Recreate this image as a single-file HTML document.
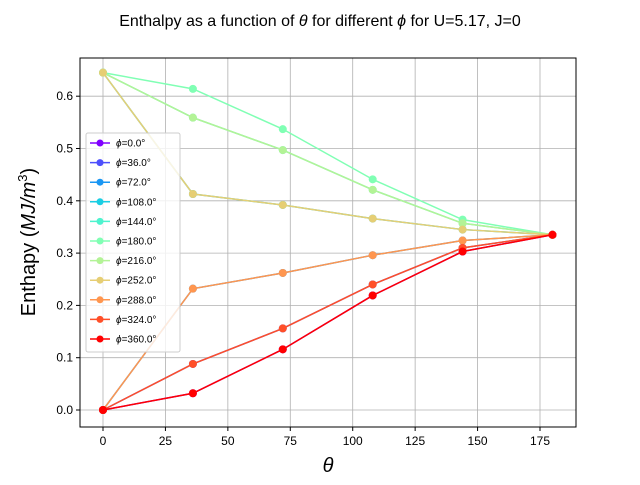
<!DOCTYPE html>
<html><head><meta charset="utf-8"><style>
body{margin:0;background:#fff;}
svg{font-family:"Liberation Sans","DejaVu Sans",sans-serif;}
</style></head><body>
<svg id="chart" width="640" height="480" viewBox="0 0 640 480">
<text x="320" y="26" text-anchor="middle" font-size="16">Enthalpy as a function of <tspan font-style="italic">θ</tspan> for different <tspan font-style="italic">ϕ</tspan> for U=5.17, J=0</text>
<g id="grid"></g>
<g id="series"></g>
<rect x="80" y="58" width="496" height="369" fill="none" stroke="#000" stroke-width="1"/>
<g id="axes"></g>
<text x="328" y="472" text-anchor="middle" font-size="20" font-style="italic">θ</text>
<text transform="translate(35,242) rotate(-90)" text-anchor="middle" font-size="20">Enthapy (<tspan font-style="italic">MJ/m</tspan><tspan font-size="13" dy="-8">3</tspan><tspan dy="8">)</tspan></text>
<g id="legend"></g>
</svg>
<script>
const thetas = [0, 36, 72, 108, 144, 180];
const phiLabels = ["0.0","36.0","72.0","108.0","144.0","180.0","216.0","252.0","288.0","324.0","360.0"];
const colors = ["#8000ff","#4d4ffc","#1996f3","#1acee3","#4df3ce","#80ffb4","#b3f396","#e6ce74","#ff964f","#ff4f28","#ff0000"];
const s0 = [0, 0.032, 0.116, 0.219, 0.303, 0.335];
const s36 = [0, 0.088, 0.156, 0.240, 0.310, 0.335];
const s72 = [0, 0.232, 0.262, 0.296, 0.324, 0.335];
const s108 = [0.645, 0.413, 0.392, 0.366, 0.345, 0.335];
const s144 = [0.645, 0.559, 0.497, 0.421, 0.357, 0.335];
const s180 = [0.645, 0.614, 0.537, 0.441, 0.364, 0.335];
const s216 = [0.645, 0.559, 0.497, 0.421, 0.357, 0.335];
const s252 = [0.645, 0.413, 0.392, 0.366, 0.345, 0.335];
const s288 = [0, 0.232, 0.262, 0.296, 0.324, 0.335];
const s324 = [0, 0.088, 0.156, 0.240, 0.310, 0.335];
const s360 = [0, 0.032, 0.116, 0.219, 0.303, 0.335];
const seriesList = [s0,s36,s72,s108,s144,s180,s216,s252,s288,s324,s360];
const xTicks = [0,25,50,75,100,125,150,175];
const yTicks = [0.0,0.1,0.2,0.3,0.4,0.5,0.6];

const NS="http://www.w3.org/2000/svg";
function xs(v){return 103 + v*(437/175);}
function ys(v){return 410 - v*523;}
function mk(tag,attrs,parent){const e=document.createElementNS(NS,tag);for(const k in attrs)e.setAttribute(k,attrs[k]);parent.appendChild(e);return e;}
const grid=document.getElementById('grid'), axes=document.getElementById('axes'), series=document.getElementById('series'), legend=document.getElementById('legend');
xTicks.forEach(t=>{
  const x=xs(t);
  const g=mk('line',{x1:x,x2:x,y1:58,y2:427,stroke:'#b0b0b0','stroke-width':0.8},grid);
  
  
  const tk=mk('line',{x1:x,x2:x,y1:427,y2:431,stroke:'#000'},axes);
  
  
  const tl=mk('text',{x:x,y:445,'text-anchor':'middle','font-size':12},axes);
  tl.textContent=t;
  
  
});
yTicks.forEach(t=>{
  const y=ys(t);
  const g=mk('line',{x1:80,x2:576,y1:y,y2:y,stroke:'#b0b0b0','stroke-width':0.8},grid);
  
  
  const tk=mk('line',{x1:76,x2:80,y1:y,y2:y,stroke:'#000'},axes);
  
  
  const tl=mk('text',{x:73,y:y+4,'text-anchor':'end','font-size':12},axes);
  tl.textContent=t.toFixed(1);
  
  
});
seriesList.forEach((s,i)=>{
  const g=mk('g',{},series);
  
  
  const pts=s.map((v,j)=>xs(thetas[j])+','+ys(v)).join(' ');
  const pl=mk('polyline',{points:pts,fill:'none',stroke:colors[i],'stroke-width':1.5},g);
  
  
  s.forEach((v,j)=>{
    const c=mk('circle',{cx:xs(thetas[j]),cy:ys(v),r:4,fill:colors[i]},g);
    
    
  });
});
const lb=mk('rect',{x:86,y:133,width:94,height:219,fill:'#fff','fill-opacity':0.8,stroke:'#ccc',rx:2},legend);


phiLabels.forEach((p,i)=>{
  const y=143+i*19.6;
  const g=mk('g',{},legend);
  
  
  mk('line',{x1:90,x2:110,y1:y,y2:y,stroke:colors[i],'stroke-width':1.5},g);
  mk('circle',{cx:100,cy:y,r:3.5,fill:colors[i]},g);
  const t=mk('text',{x:116,y:y+3.5,'font-size':10},g);
  t.innerHTML='<tspan font-style="italic">ϕ</tspan>='+p+'°';
});
</script>
</body></html>
